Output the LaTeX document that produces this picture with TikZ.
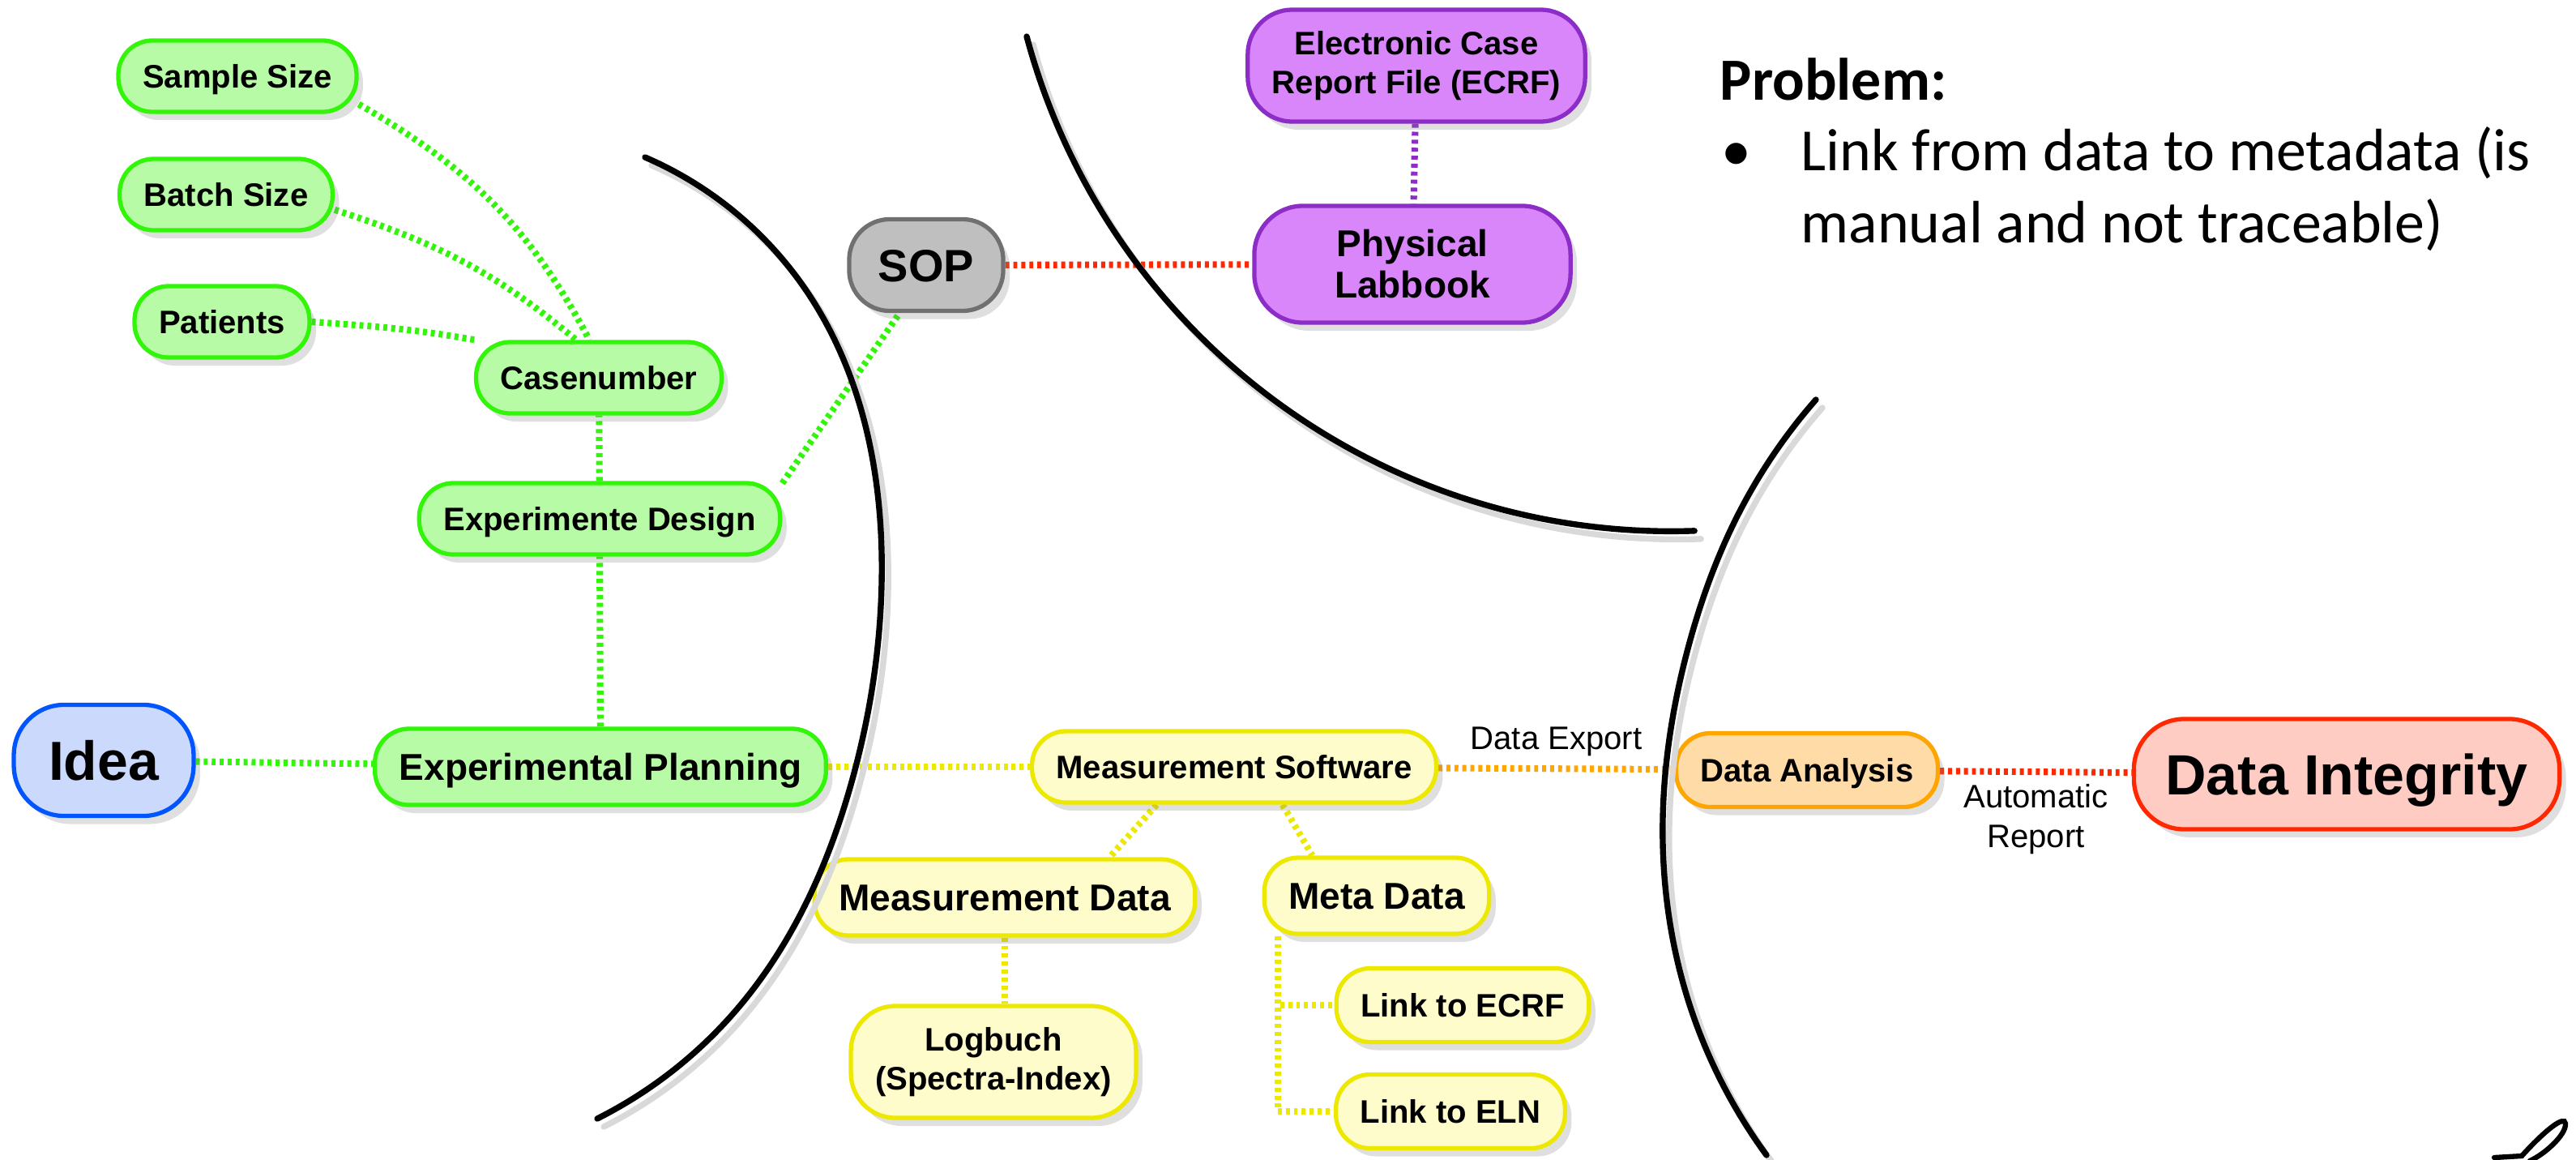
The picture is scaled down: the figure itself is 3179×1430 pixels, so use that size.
\documentclass[tikz,border=0pt]{standalone}
\usepackage{fontspec}
\setmainfont{Liberation Sans}
\newfontfamily\calibri{Carlito}
\usepackage{tikz}
\usetikzlibrary{hobby,shadows,backgrounds}
\definecolor{grnfill}{RGB}{183,251,166}
\definecolor{grnline}{RGB}{50,245,10}
\definecolor{bluefill}{RGB}{203,217,252}
\definecolor{blueline}{RGB}{0,85,255}
\definecolor{greyfill}{RGB}{191,191,191}
\definecolor{greyline}{RGB}{112,112,112}
\definecolor{purpfill}{RGB}{217,134,250}
\definecolor{purpline}{RGB}{140,45,200}
\definecolor{ylwfill}{RGB}{255,252,203}
\definecolor{ylwline}{RGB}{236,232,0}
\definecolor{orgfill}{RGB}{255,219,168}
\definecolor{orgline}{RGB}{255,165,0}
\definecolor{redfill}{RGB}{255,204,196}
\definecolor{redline}{RGB}{255,40,0}
\tikzset{
  box/.style={rounded corners=0.42cm, line width=1.5pt, inner xsep=0.3cm, inner ysep=0pt,
    minimum height=0.88cm, font=\bfseries\fontsize{11.4}{13.7}\selectfont,
    drop shadow={shadow xshift=0.08cm, shadow yshift=-0.1cm, opacity=0.25}},
  capfix/.style={text height=#1, text depth=0pt},
  capfix/.default=0.29cm,
  bigtext/.style={font=\bfseries\fontsize{13.1}{14.5}\selectfont, minimum height=0.94cm},
  green box/.style={box, draw=grnline, fill=grnfill},
  blue box/.style={box, draw=blueline, fill=bluefill},
  grey box/.style={box, draw=greyline, fill=greyfill},
  purple box/.style={box, draw=purpline, fill=purpfill},
  yellow box/.style={box, draw=ylwline, fill=ylwfill},
  orange box/.style={box, draw=orgline, fill=orgfill},
  red box/.style={box, draw=redline, fill=redfill},
  link/.style={draw=#1, line width=2.3pt, dash pattern=on 1.4pt off 1.4pt},
  lbl/.style={font=\fontsize{11.4}{13.7}\selectfont},
  rim/.style={line width=2.1pt, line cap=round},
  note/.style={anchor=base west, inner sep=0pt, font=\calibri\fontsize{21}{25.6}\selectfont}
}
\begin{document}
\begin{tikzpicture}[x=0.01cm,y=0.01cm]
\useasboundingbox (0,0) rectangle (3179,-1430);

% planning branch
\node[blue box, capfix=0.49cm, font=\bfseries\fontsize{19.3}{23}\selectfont,
  inner xsep=0.43cm, minimum height=1.37cm, rounded corners=0.62cm] (idea) at (128,-938) {Idea};
\node[green box, bigtext, capfix=0.33cm] (plan) at (741,-946) {Experimental Planning};
\node[green box, capfix] (design) at (740,-640) {Experimente Design};
\node[green box, capfix] (casen) at (739,-466) {Casenumber};
\node[green box, capfix] (sample) at (293,-94) {Sample Size};
\node[green box, capfix] (batch) at (279,-240) {Batch Size};
\node[green box, capfix] (patients) at (274,-397) {Patients};

% lab documentation
\node[grey box, capfix=0.40cm, font=\bfseries\fontsize{15.9}{19}\selectfont,
  inner xsep=0.36cm, minimum height=1.13cm, rounded corners=0.5cm] (sop) at (1143,-327) {SOP};
\node[purple box, bigtext, align=center, minimum width=3.9cm, minimum height=1.44cm,
  rounded corners=0.6cm] (labbook) at (1743,-326) {Physical\\Labbook};
\node[purple box, align=center, minimum height=1.38cm, rounded corners=0.55cm]
  (ecrf) at (1748,-81) {Electronic Case\\Report File (ECRF)};

% measurement
\node[yellow box, capfix] (msw) at (1523,-946) {Measurement Software};
\node[yellow box, bigtext, capfix=0.33cm] (mdata) at (1240,-1107) {Measurement Data};
\node[yellow box, bigtext, capfix=0.33cm] (meta) at (1699,-1105) {Meta Data};
\node[yellow box, align=center, minimum height=1.38cm, rounded corners=0.55cm]
  (logb) at (1226,-1310) {Logbuch\\(Spectra-Index)};
\node[yellow box, capfix, minimum height=0.91cm] (lecrf) at (1805,-1240) {Link to ECRF};
\node[yellow box, capfix, minimum height=0.91cm] (leln) at (1790,-1371) {Link to ELN};

% analysis
\node[orange box, capfix, minimum height=0.91cm] (ana) at (2230,-950) {Data Analysis};
\node[red box, capfix=0.5cm, font=\bfseries\fontsize{19.9}{24}\selectfont,
  inner xsep=0.39cm, minimum height=1.36cm, rounded corners=0.62cm] (integ) at (2896,-955) {Data Integrity};

\begin{scope}[on background layer]
  \draw[link=grnline] (idea) -- (plan);
  \draw[link=grnline] (plan) -- (design);
  \draw[link=grnline] (design) -- (casen);
  \draw[link=grnline] (sample.-13) to[out=-30,in=118] (casen.104);
  \draw[link=grnline] (batch.-8) to[out=-18,in=140] (casen.121);
  \draw[link=grnline] (patients.east) to[out=-4,in=170] (casen.163);
  \draw[link=grnline] (design.11) -- (sop.-119);
  \draw[link=redline] (sop) -- (labbook);
  \draw[link=purpline] (ecrf) -- (labbook);
  \draw[link=ylwline] (plan) -- (msw);
  \draw[link=ylwline] (msw.-154) -- (mdata.21);
  \draw[link=ylwline] (msw.-38) -- (meta.148);
  \draw[link=ylwline] (mdata.south) -- (mdata.south |- logb.north);
  \draw[link=ylwline] ([xshift=0.19cm]meta.south west) |- (lecrf.west);
  \draw[link=ylwline] ([xshift=0.19cm]meta.south west) |- (leln.west);
  \draw[link=orgline] (msw) -- node[lbl, above] {Data Export} (ana);
  \draw[link=redline] (ana) -- node[lbl, below, align=center] {Automatic\\Report} (integ);
\end{scope}

% phase borders
\foreach \sx/\sy/\ink in {8/-10/black!15, 0/0/black} {
  \draw[rim, draw=\ink, shift={(\sx,\sy)}, use Hobby shortcut]
    (796,-194) .. (1000,-366) .. (1088,-720) .. (1052,-961) .. (912,-1242) .. (737,-1380);
  \draw[rim, draw=\ink, shift={(\sx,\sy)}]
    (1267,-45) arc[start angle=195, end angle=272, radius=8.23cm];
  \draw[rim, draw=\ink, shift={(\sx,\sy)}, use Hobby shortcut]
    (2241,-493) .. (2150,-625) .. (2083,-800) .. (2052,-1040) .. (2083,-1233) .. (2180,-1425);
}
\draw[line width=1.8pt, line cap=round] (3078,-1428) -- (3112,-1426)
  .. controls (3140,-1395) and (3165,-1375) .. (3166,-1386)
  .. controls (3167,-1400) and (3140,-1424) .. (3122,-1432);

% problem note
\node[note, font=\calibri\bfseries\fontsize{21}{25.6}\selectfont] (prob) at (2122,-123) {Problem:};
\node[note] (dot) at (2124,-210) {•};
\node[note] (line1) at (2222,-210) {Link from data to metadata (is};
\node[note] (line2) at (2222,-299) {manual and not traceable)};
\end{tikzpicture}
\end{document}
